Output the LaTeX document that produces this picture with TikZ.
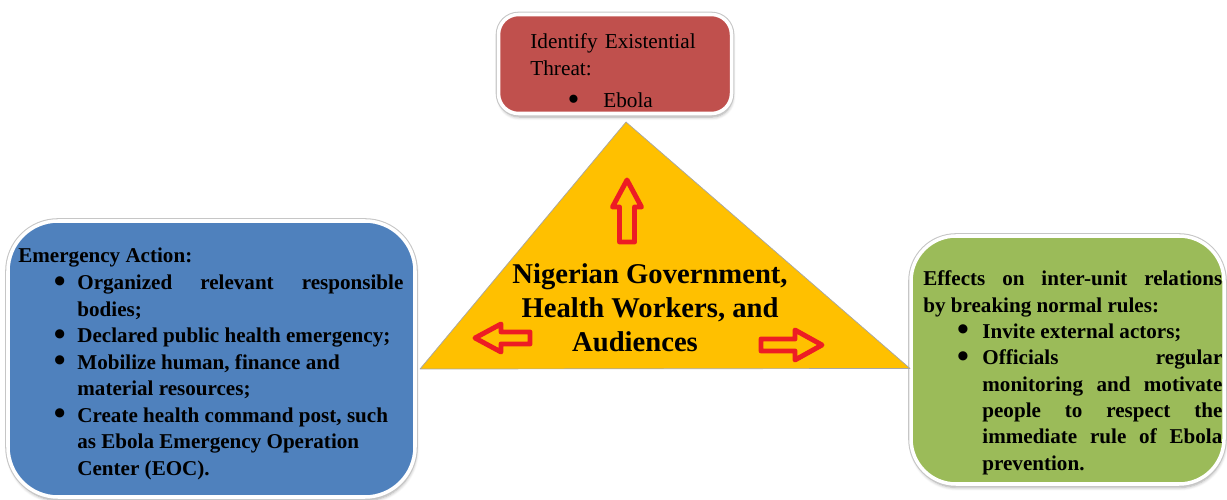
\documentclass[tikz,border=0pt]{standalone}
\usepackage{fontspec}
\setmainfont{Liberation Serif}
\usepackage{enumitem}
\usepackage{tkz-euclide}
\usetikzlibrary{shadows.blur}
\setlength{\parindent}{0pt}

\definecolor{threatred}{RGB}{192,80,77}
\definecolor{actionblue}{RGB}{79,129,189}
\definecolor{effectgreen}{RGB}{155,187,89}
\definecolor{govgold}{RGB}{255,192,0}
\definecolor{arrowred}{RGB}{237,28,36}

% a bigger bullet than the font's own
\newcommand{\fatbullet}{\smash{\raisebox{-0.12em}{\scalebox{1.6}{\textbullet}}}}

\tikzset{
  panel/.style={rounded corners=#1, draw=white, line width=2pt, inner sep=0pt,
    blur shadow={shadow xshift=0.5pt, shadow yshift=-2pt, shadow blur steps=6, shadow opacity=35},
    preaction={draw=gray!45, line width=3.2pt}},
  paneltext/.style={inner sep=0pt, anchor=north west, align=justify},
  hollowarrow/.style={draw=arrowred, line width=2.8pt, line join=round, fill=govgold}
}

\begin{document}
\begin{tikzpicture}
    \useasboundingbox (0,0) rectangle (24.54,-10);

    % the three boxes
    \node[panel=0.4cm, fill=threatred, minimum width=4.66cm, minimum height=1.98cm] (threat) at (12.30,-1.28) {};
    \node[panel=1cm, fill=actionblue, minimum width=8.14cm, minimum height=5.52cm] (action) at (4.23,-7.18) {};
    \node[panel=0.9cm, fill=effectgreen, minimum width=6.26cm, minimum height=4.96cm] (effects) at (21.35,-7.20) {};

    % triangle in the middle
    \tkzDefPoint(12.52,-2.44){A}
    \tkzDefPoint(8.40,-7.38){B}
    \tkzDefPoint(18.20,-7.37){C}
    \tkzDrawPolygon[draw=gray!70, fill=govgold, line width=0.4pt](A,B,C)

    % up arrow
    \tkzDefPoint(12.54,-3.60){u1}
    \tkzDefPoint(12.83,-4.14){u2}
    \tkzDefPoint(12.69,-4.14){u3}
    \tkzDefPoint(12.69,-4.84){u4}
    \tkzDefPoint(12.39,-4.84){u5}
    \tkzDefPoint(12.39,-4.14){u6}
    \tkzDefPoint(12.25,-4.14){u7}
    \tkzDrawPolygon[hollowarrow](u1,u2,u3,u4,u5,u6,u7)

    % left arrow
    \tkzDefPoint(9.50,-6.76){l1}
    \tkzDefPoint(10.02,-6.48){l2}
    \tkzDefPoint(10.02,-6.64){l3}
    \tkzDefPoint(10.60,-6.64){l4}
    \tkzDefPoint(10.60,-6.88){l5}
    \tkzDefPoint(10.02,-6.88){l6}
    \tkzDefPoint(10.02,-7.04){l7}
    \tkzDrawPolygon[hollowarrow](l1,l2,l3,l4,l5,l6,l7)

    % right arrow
    \tkzDefPoint(16.44,-6.90){r1}
    \tkzDefPoint(15.90,-6.60){r2}
    \tkzDefPoint(15.90,-6.78){r3}
    \tkzDefPoint(15.22,-6.78){r4}
    \tkzDefPoint(15.22,-7.02){r5}
    \tkzDefPoint(15.90,-7.02){r6}
    \tkzDefPoint(15.90,-7.20){r7}
    \tkzDrawPolygon[hollowarrow](r1,r2,r3,r4,r5,r6,r7)

    % texts
    \node[paneltext, text width=4.0cm, align=left,
          font=\fontsize{12.1}{15.4}\selectfont] (threattext) at (10.60,-0.67)
        {Identify Existential\\ Threat:
         \begin{itemize}[nosep, topsep=2.8pt, leftmargin=41.5pt, labelsep=13.5pt, label=\fatbullet]
           \item Ebola
         \end{itemize}};

    \node[inner sep=0pt, anchor=north, align=center,
          font=\bfseries\fontsize{16.3}{19.3}\selectfont] (gov) at (13.0,-5.26)
        {Nigerian Government,\\ Health Workers, and\\ Audiences\hspace*{0.6cm}};

    \node[paneltext, text width=7.7cm,
          font=\bfseries\fontsize{12}{15.1}\selectfont] (actiontext) at (0.36,-4.96)
        {Emergency Action:
         \begin{itemize}[nosep, leftmargin=33.6pt, labelsep=6.6pt, label=\fatbullet]
           \item Organized relevant responsible\linebreak bodies;
           \item Declared public health emergency;
           \item Mobilize human, finance and\\ material resources;
           \item Create health command post, such\\ as Ebola Emergency Operation\\ Center (EOC).
         \end{itemize}};

    \node[paneltext, text width=5.98cm,
          font=\bfseries\fontsize{12}{15.0}\selectfont] (effectstext) at (18.46,-5.41)
        {Effects on inter-unit relations\linebreak by breaking normal rules:
         \begin{itemize}[nosep, leftmargin=33.6pt, labelsep=7.6pt, label=\fatbullet]
           \item Invite external actors;
           \item Officials regular\linebreak monitoring and motivate\linebreak people to respect the\linebreak immediate rule of Ebola\linebreak prevention.
         \end{itemize}};
\end{tikzpicture}
\end{document}
